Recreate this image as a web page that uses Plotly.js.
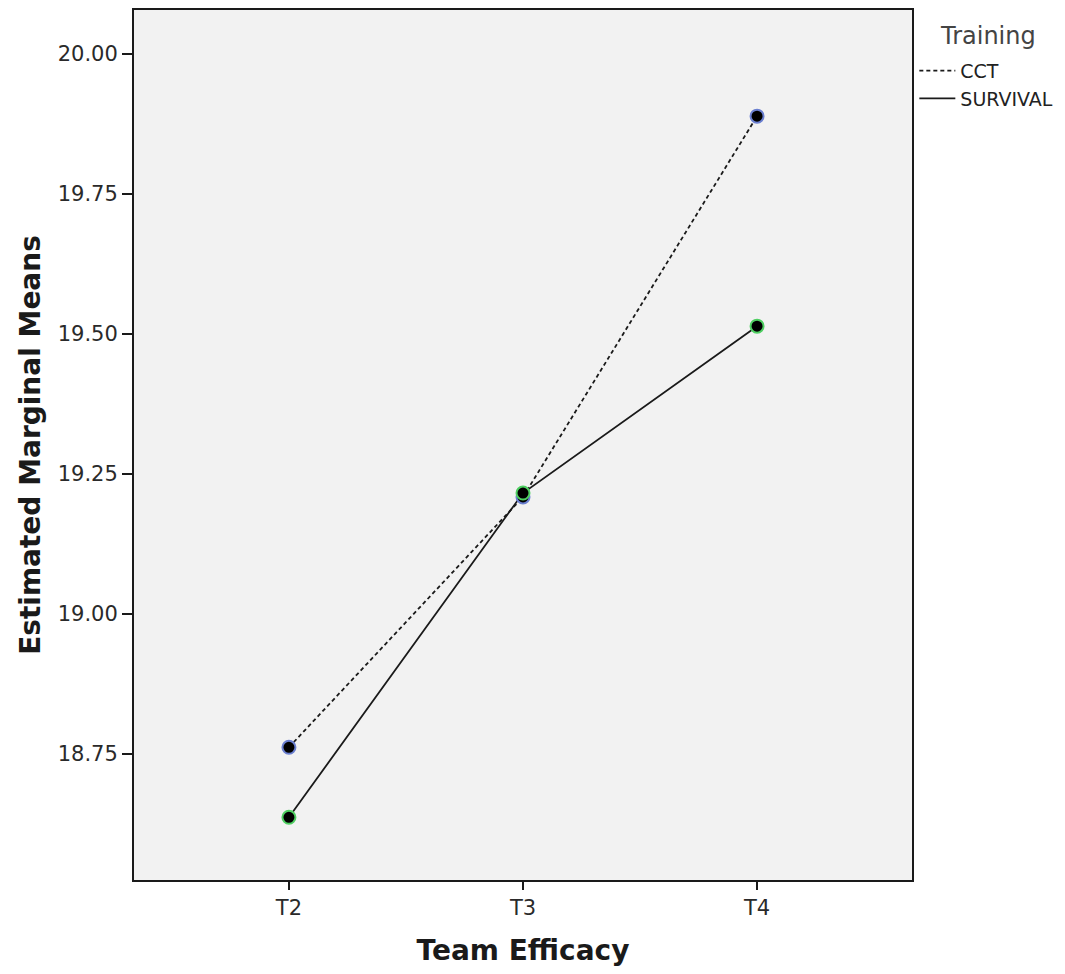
<!DOCTYPE html>
<html>
<head>
<meta charset="utf-8">
<script src="https://cdn.plot.ly/plotly-3.0.1.min.js"></script>
<style>html,body{margin:0;padding:0;background:#fff;}#chart{width:1065px;height:974px;}</style>
</head>
<body>
<div id="chart"></div>
<script>
var categories = ["T2", "T3", "T4"];
var cctValues = [18.762, 19.209, 19.889];
var survivalValues = [18.637, 19.216, 19.514];
var seriesNames = ["CCT", "SURVIVAL"];
var legendTitle = "Training";
var yTickValues = [18.75, 19.00, 19.25, 19.50, 19.75, 20.00];
var yTickLabels = ["18.75", "19.00", "19.25", "19.50", "19.75", "20.00"];

var FONT = "DejaVu Sans, Verdana, sans-serif";

var traces = [
  {x: categories, y: cctValues, name: seriesNames[0], mode: "lines", type: "scatter",
   line: {color: "#1a1a1a", width: 1.8, dash: "4px,3px"}},
  {x: categories, y: survivalValues, name: seriesNames[1], mode: "lines", type: "scatter",
   line: {color: "#1a1a1a", width: 1.8}},
  {x: categories, y: cctValues, mode: "markers", type: "scatter", showlegend: false, hoverinfo: "skip",
   marker: {color: "#000", size: 13, line: {color: "#6a7fd0", width: 2}}},
  {x: categories, y: survivalValues, mode: "markers", type: "scatter", showlegend: false, hoverinfo: "skip",
   marker: {color: "#000", size: 13, line: {color: "#4fcf62", width: 2}}}
];

var layout = {
  width: 1065, height: 974,
  margin: {l: 134, r: 153, t: 10, b: 94, pad: 0, autoexpand: false},
  paper_bgcolor: "#ffffff",
  plot_bgcolor: "#f2f2f2",
  font: {family: FONT, color: "#222"},
  xaxis: {
    type: "category",
    range: [-0.662, 2.662],
    showgrid: false, zeroline: false,
    showline: true, linecolor: "#1a1a1a", linewidth: 2, mirror: true,
    ticks: "outside", ticklen: 8, tickcolor: "#1a1a1a", tickwidth: 1.5,
    tickfont: {size: 21, color: "#2a2a2a", family: FONT},
    title: {text: "<b>Team Efficacy</b>", font: {size: 28, color: "#1a1a1a", family: FONT}, standoff: 21}
  },
  yaxis: {
    range: [18.525, 20.0786],
    tickvals: yTickValues, ticktext: yTickLabels,
    showgrid: false, zeroline: false,
    showline: true, linecolor: "#1a1a1a", linewidth: 2, mirror: true,
    ticks: "outside", ticklen: 10, tickcolor: "#1a1a1a", tickwidth: 1.5,
    tickfont: {size: 21, color: "#2a2a2a", family: FONT},
    title: {text: "<b>Estimated Marginal Means</b>", font: {size: 28, color: "#1a1a1a", family: FONT}, standoff: 9}
  },
  legend: {
    x: 1.003, y: 0.952, xanchor: "left", yanchor: "top",
    bgcolor: "rgba(0,0,0,0)",
    font: {size: 19, color: "#222", family: FONT},
    tracegroupgap: 0, itemwidth: 36
  },
  annotations: [{
    text: legendTitle, xref: "paper", yref: "paper", x: 1.0977, y: 0.970,
    xanchor: "center", yanchor: "middle", showarrow: false,
    font: {size: 24, color: "#444", family: FONT}
  }],
  showlegend: true
};

Plotly.newPlot("chart", traces, layout, {displayModeBar: false, staticPlot: true});
</script>
</body>
</html>
